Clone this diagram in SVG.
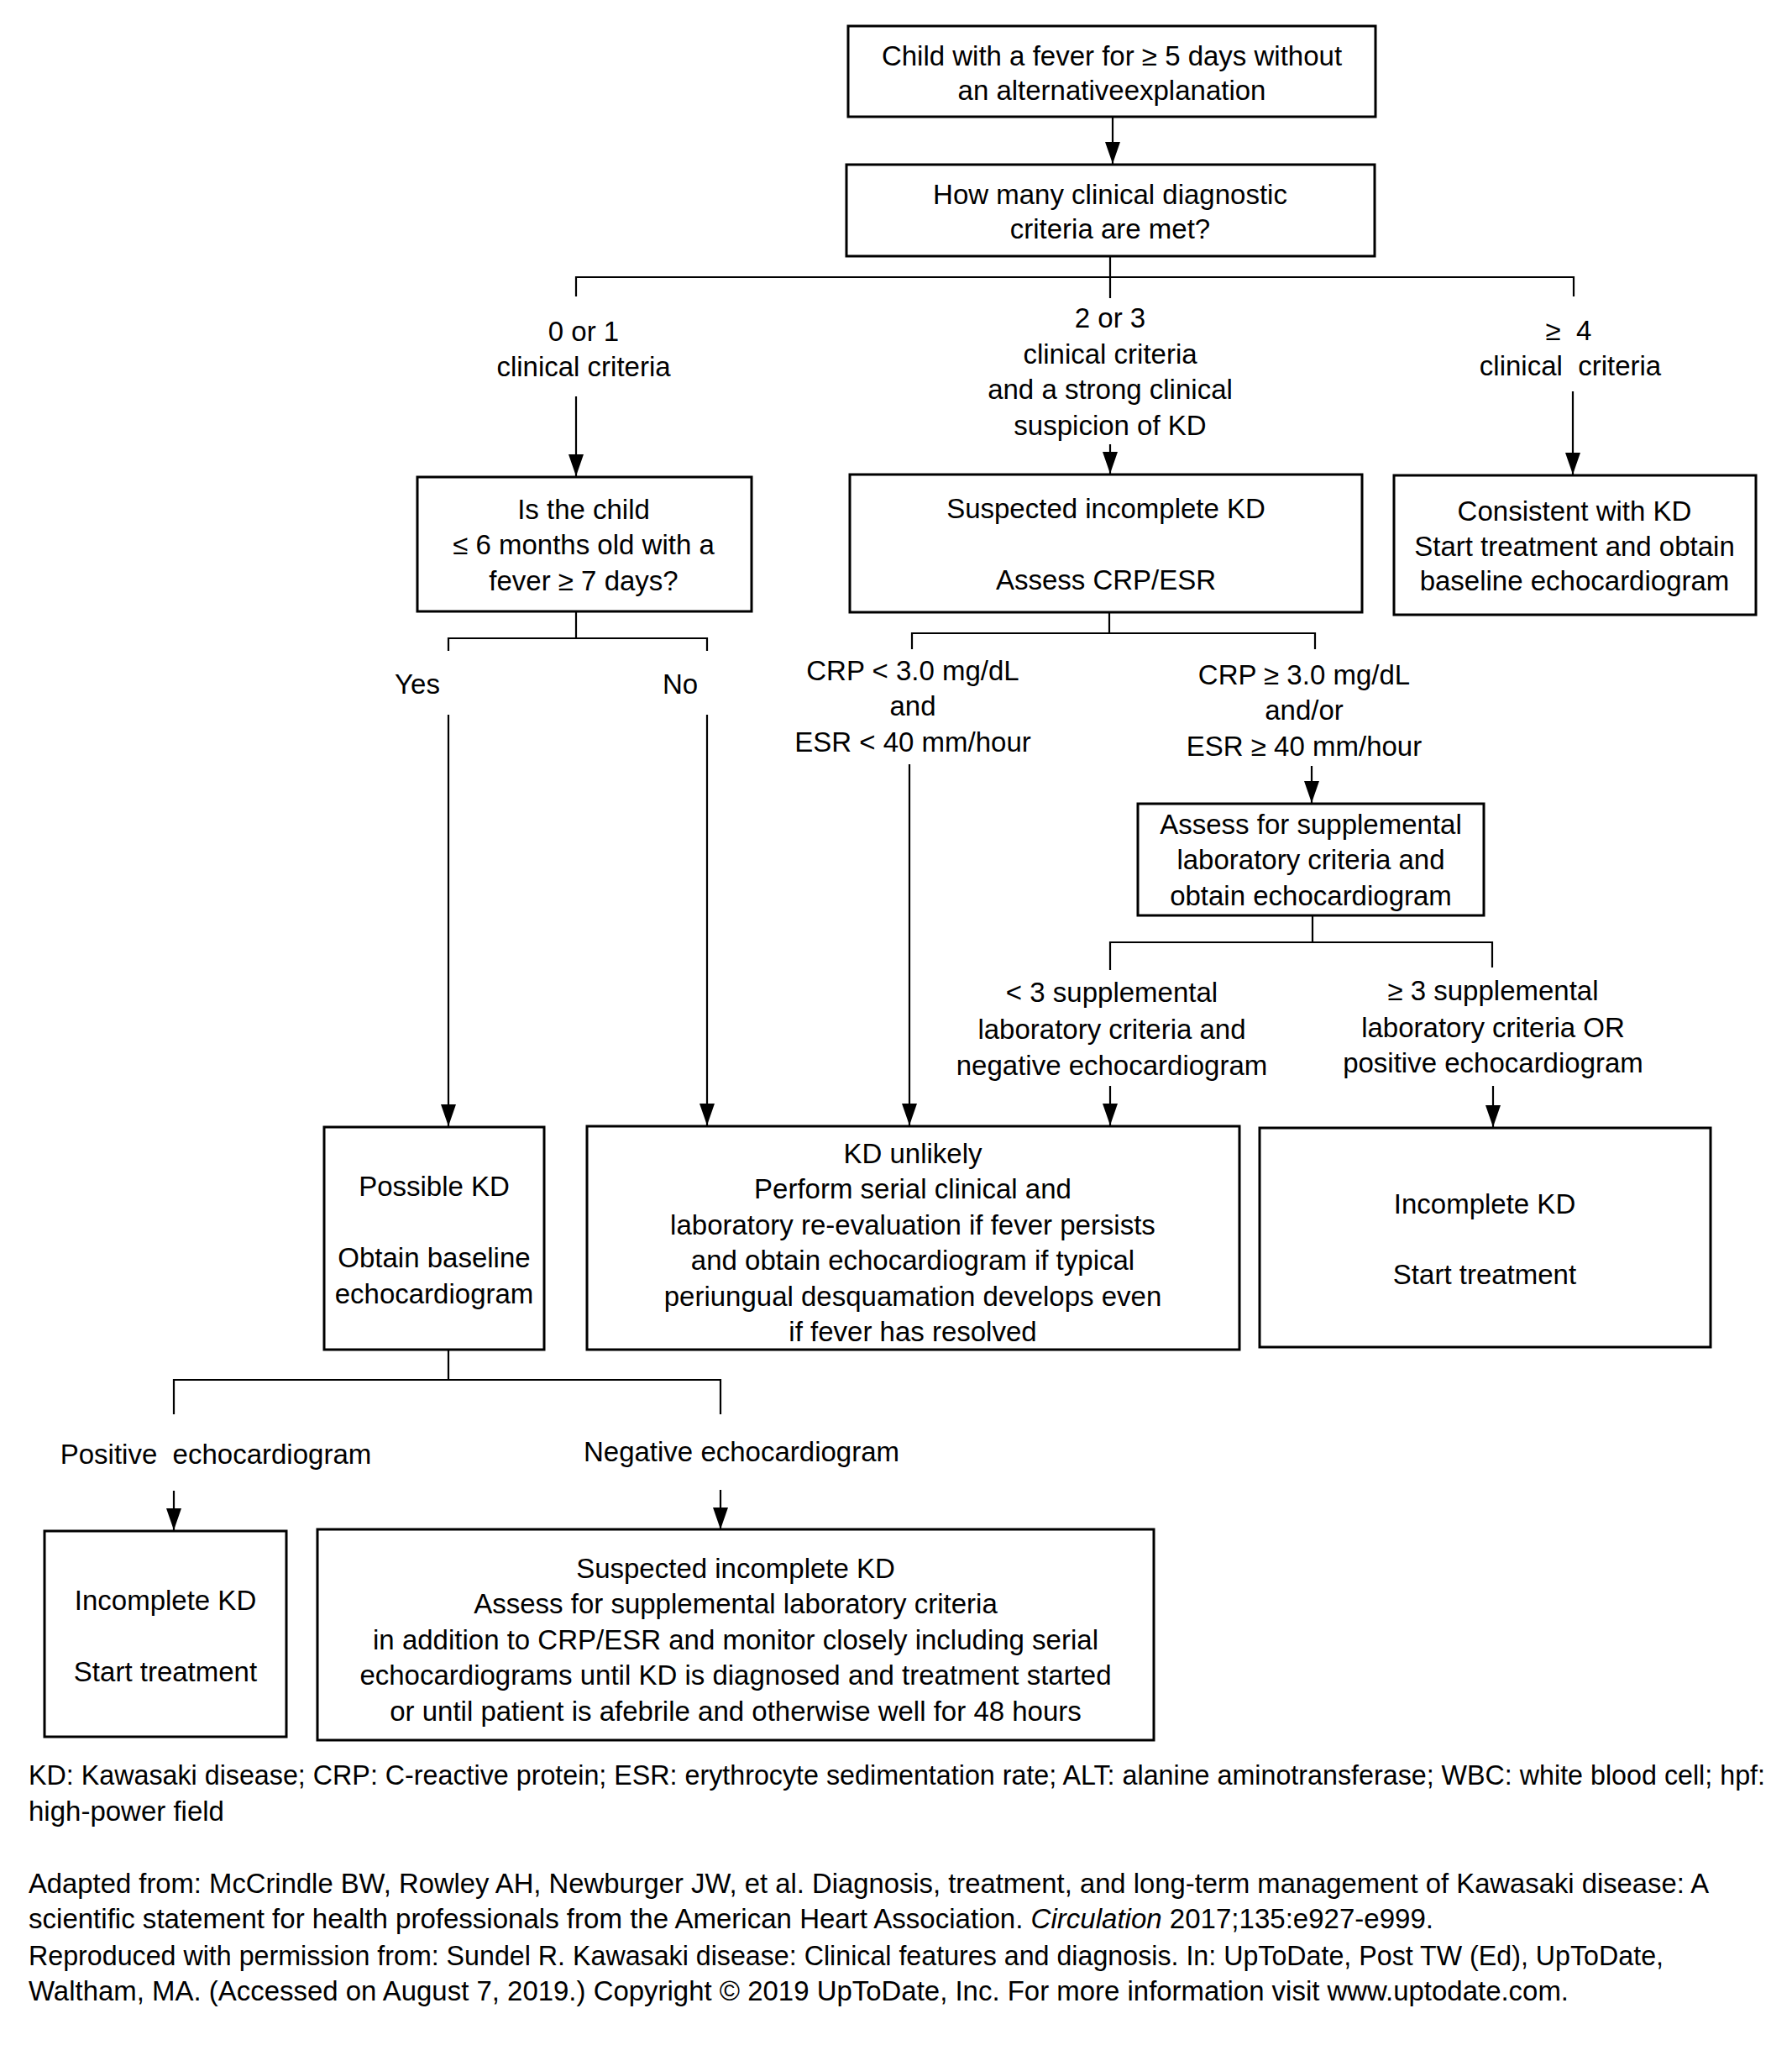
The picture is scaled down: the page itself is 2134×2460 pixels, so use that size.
<svg xmlns="http://www.w3.org/2000/svg" width="2134" height="2460" viewBox="0 0 2134 2460">
<style>
text{font-family:"Liberation Sans",Arial,sans-serif;font-size:33px;fill:#000}
.c{text-anchor:middle}
.box{fill:#fff;stroke:#000;stroke-width:3}
.ln{fill:none;stroke:#000;stroke-width:2.2}
.ar{fill:none;stroke:#000;stroke-width:2.2;marker-end:url(#ah)}
</style>
<defs>
<marker id="ah" markerUnits="userSpaceOnUse" markerWidth="26" markerHeight="18" refX="26" refY="9" orient="auto">
<path d="M0,0 L26,9 L0,18 z" fill="#000"/>
</marker>
</defs>
<rect width="2134" height="2460" fill="#fff"/>

<g id="connectors">
<line class="ar" x1="1325" y1="139" x2="1325" y2="195"/>
<path class="ln" d="M1322,305 V330 M686,353 V330 H1874 V353 M1322,330 V355"/>
<line class="ar" x1="686" y1="472" x2="686" y2="567"/>
<line class="ar" x1="1322" y1="529" x2="1322" y2="564"/>
<line class="ar" x1="1873" y1="466" x2="1873" y2="565"/>
<path class="ln" d="M686,728 V760 M534,775 V760 H842 V775"/>
<line class="ar" x1="534" y1="851" x2="534" y2="1341"/>
<line class="ar" x1="842" y1="851" x2="842" y2="1340"/>
<path class="ln" d="M1321,729 V754 M1086,773 V754 H1566 V773"/>
<line class="ar" x1="1083" y1="910" x2="1083" y2="1340"/>
<line class="ar" x1="1562" y1="912" x2="1562" y2="956"/>
<path class="ln" d="M1563,1090 V1122 M1322,1155 V1122 H1777 V1152"/>
<line class="ar" x1="1322" y1="1293" x2="1322" y2="1340"/>
<line class="ar" x1="1778" y1="1293" x2="1778" y2="1342"/>
<path class="ln" d="M534,1607 V1643 M207,1684 V1643 H858 V1684"/>
<line class="ar" x1="207" y1="1775" x2="207" y2="1822"/>
<line class="ar" x1="858" y1="1774" x2="858" y2="1821"/>
</g>

<g id="labels">
<text class="c" x="695" y="406">0 or 1</text>
<text class="c" x="695" y="448">clinical criteria</text>
<text class="c" x="1322" y="390">2 or 3</text>
<text class="c" x="1322" y="433">clinical criteria</text>
<text class="c" x="1322" y="475">and a strong clinical</text>
<text class="c" x="1322" y="518">suspicion of KD</text>
<text class="c" x="1868" y="405" xml:space="preserve">≥  4</text>
<text class="c" x="1870" y="447" xml:space="preserve">clinical  criteria</text>
<text class="c" x="497" y="826">Yes</text>
<text class="c" x="810" y="826">No</text>
<text class="c" x="1087" y="810">CRP &lt; 3.0 mg/dL</text>
<text class="c" x="1087" y="852">and</text>
<text class="c" x="1087" y="895">ESR &lt; 40 mm/hour</text>
<text class="c" x="1553" y="815">CRP ≥ 3.0 mg/dL</text>
<text class="c" x="1553" y="857">and/or</text>
<text class="c" x="1553" y="900">ESR ≥ 40 mm/hour</text>
<text class="c" x="1324" y="1193">&lt; 3 supplemental</text>
<text class="c" x="1324" y="1237">laboratory criteria and</text>
<text class="c" x="1324" y="1280">negative echocardiogram</text>
<text class="c" x="1778" y="1191">≥ 3 supplemental</text>
<text class="c" x="1778" y="1235">laboratory criteria OR</text>
<text class="c" x="1778" y="1277">positive echocardiogram</text>
<text class="c" x="257" y="1743" xml:space="preserve">Positive  echocardiogram</text>
<text class="c" x="883" y="1740">Negative echocardiogram</text>
</g>

<g id="node-start">
<rect class="box" x="1010" y="31" width="628" height="108"/>
<text class="c" x="1324" y="78">Child with a fever for ≥ 5 days without</text>
<text class="c" x="1324" y="119">an alternativeexplanation</text>
</g>

<g id="node-criteria">
<rect class="box" x="1008" y="196" width="629" height="109"/>
<text class="c" x="1322" y="243">How many clinical diagnostic</text>
<text class="c" x="1322" y="284">criteria are met?</text>
</g>

<g id="node-child">
<rect class="box" x="497" y="568" width="398" height="160"/>
<text class="c" x="695" y="618">Is the child</text>
<text class="c" x="695" y="660">≤ 6 months old with a</text>
<text class="c" x="695" y="703">fever ≥ 7 days?</text>
</g>

<g id="node-suspected">
<rect class="box" x="1012" y="565" width="610" height="164"/>
<text class="c" x="1317" y="617">Suspected incomplete KD</text>
<text class="c" x="1317" y="702">Assess CRP/ESR</text>
</g>

<g id="node-consistent">
<rect class="box" x="1660" y="566" width="431" height="166"/>
<text class="c" x="1875" y="620">Consistent with KD</text>
<text class="c" x="1875" y="662">Start treatment and obtain</text>
<text class="c" x="1875" y="703">baseline echocardiogram</text>
</g>

<g id="node-assess">
<rect class="box" x="1355" y="957" width="412" height="133"/>
<text class="c" x="1561" y="993">Assess for supplemental</text>
<text class="c" x="1561" y="1035">laboratory criteria and</text>
<text class="c" x="1561" y="1078">obtain echocardiogram</text>
</g>

<g id="node-possible">
<rect class="box" x="386" y="1342" width="262" height="265"/>
<text class="c" x="517" y="1424">Possible KD</text>
<text class="c" x="517" y="1509">Obtain baseline</text>
<text class="c" x="517" y="1552">echocardiogram</text>
</g>

<g id="node-unlikely">
<rect class="box" x="699" y="1341" width="777" height="266"/>
<text class="c" x="1087" y="1385">KD unlikely</text>
<text class="c" x="1087" y="1427">Perform serial clinical and</text>
<text class="c" x="1087" y="1470">laboratory re-evaluation if fever persists</text>
<text class="c" x="1087" y="1512">and obtain echocardiogram if typical</text>
<text class="c" x="1087" y="1555">periungual desquamation develops even</text>
<text class="c" x="1087" y="1597">if fever has resolved</text>
</g>

<g id="node-incomplete-right">
<rect class="box" x="1500" y="1343" width="537" height="261"/>
<text class="c" x="1768" y="1445">Incomplete KD</text>
<text class="c" x="1768" y="1529">Start treatment</text>
</g>

<g id="node-incomplete-left">
<rect class="box" x="53" y="1823" width="288" height="245"/>
<text class="c" x="197" y="1917">Incomplete KD</text>
<text class="c" x="197" y="2002">Start treatment</text>
</g>

<g id="node-suspected-bottom">
<rect class="box" x="378" y="1821" width="996" height="251"/>
<text class="c" x="876" y="1879">Suspected incomplete KD</text>
<text class="c" x="876" y="1921">Assess for supplemental laboratory criteria</text>
<text class="c" x="876" y="1964">in addition to CRP/ESR and monitor closely including serial</text>
<text class="c" x="876" y="2006">echocardiograms until KD is diagnosed and treatment started</text>
<text class="c" x="876" y="2049">or until patient is afebrile and otherwise well for 48 hours</text>
</g>

<g id="footer">
<text x="34" y="2125" textLength="2068" lengthAdjust="spacingAndGlyphs">KD: Kawasaki disease; CRP: C-reactive protein; ESR: erythrocyte sedimentation rate; ALT: alanine aminotransferase; WBC: white blood cell; hpf:</text>
<text x="34" y="2168">high-power field</text>
<text x="34" y="2254" textLength="2001" lengthAdjust="spacingAndGlyphs">Adapted from: McCrindle BW, Rowley AH, Newburger JW, et al. Diagnosis, treatment, and long-term management of Kawasaki disease: A</text>
<text x="34" y="2296" textLength="1673" lengthAdjust="spacingAndGlyphs">scientific statement for health professionals from the American Heart Association. <tspan font-style="italic">Circulation</tspan> 2017;135:e927-e999.</text>
<text x="34" y="2340" textLength="1947" lengthAdjust="spacingAndGlyphs">Reproduced with permission from: Sundel R. Kawasaki disease: Clinical features and diagnosis. In: UpToDate, Post TW (Ed), UpToDate,</text>
<text x="34" y="2382" textLength="1834" lengthAdjust="spacingAndGlyphs">Waltham, MA. (Accessed on August 7, 2019.) Copyright © 2019 UpToDate, Inc. For more information visit www.uptodate.com.</text>
</g>
</svg>
